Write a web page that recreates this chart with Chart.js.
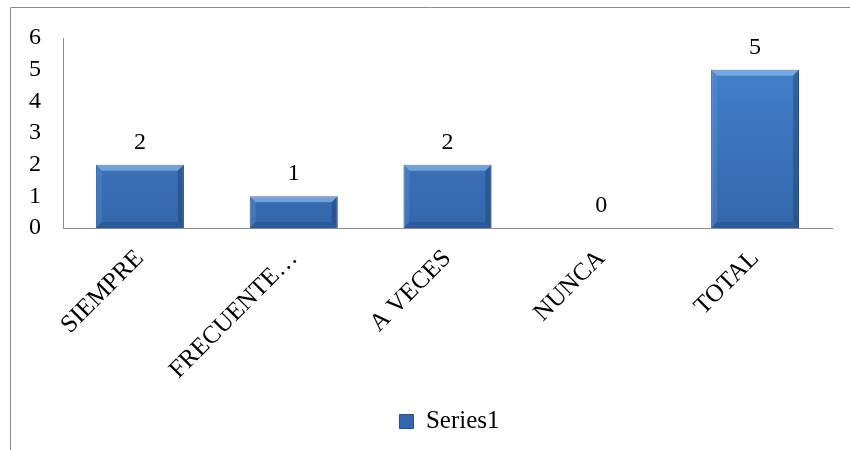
<!DOCTYPE html>
<html>
<head>
<meta charset="utf-8">
<script src="https://cdn.jsdelivr.net/npm/chart.js@4"></script>
<style>
  html, body { margin: 0; padding: 0; background: #fff; }
  #wrap { width: 850px; height: 450px; }
</style>
</head>
<body>
<div id="wrap"><canvas id="chart" width="850" height="450"></canvas></div>
<script>
const categories = ['SIEMPRE', 'FRECUENTE…', 'A VECES', 'NUNCA', 'TOTAL'];
const series1 = [2, 1, 2, 0, 5];
const yTicks = [0, 1, 2, 3, 4, 5, 6];

const serif = "'Liberation Serif', 'Times New Roman', serif";

// outer frame, only top and left edges show in the picture
const framePlugin = {
  id: 'frame',
  beforeDraw(chart) {
    const c = chart.ctx;
    c.save();
    c.strokeStyle = '#8c8c8c';
    c.lineWidth = 1;
    c.beginPath();
    c.moveTo(850, 7.5);
    c.lineTo(10.5, 7.5);
    c.lineTo(10.5, 450);
    c.stroke();
    c.restore();
  },
  // legend sits a bit right of the canvas centre in the original
  afterLayout(chart) {
    if (chart.legend) {
      chart.legend.left += 30;
      chart.legend.right += 30;
    }
  },
};

// bevel look on the bars + value labels above them
const barExtras = {
  id: 'barExtras',
  afterDatasetsDraw(chart) {
    const c = chart.ctx;
    const meta = chart.getDatasetMeta(0);
    c.save();
    meta.data.forEach((bar) => {
      const { x, y, base, width } = bar.getProps(['x', 'y', 'base', 'width'], true);
      const h = base - y;
      if (h < 2) return;
      const l = x - width / 2, r = x + width / 2;
      const b = Math.min(6, h / 3);
      c.fillStyle = 'rgba(150,195,245,0.6)';
      c.beginPath();
      c.moveTo(l, y); c.lineTo(r, y); c.lineTo(r - b, y + b); c.lineTo(l + b, y + b);
      c.closePath(); c.fill();
      c.fillStyle = 'rgba(110,160,225,0.25)';
      c.beginPath();
      c.moveTo(l, y); c.lineTo(l + b, y + b); c.lineTo(l + b, base - b); c.lineTo(l, base);
      c.closePath(); c.fill();
      c.fillStyle = 'rgba(20,50,95,0.35)';
      c.beginPath();
      c.moveTo(r, y); c.lineTo(r, base); c.lineTo(r - b, base - b); c.lineTo(r - b, y + b);
      c.closePath(); c.fill();
      c.fillStyle = 'rgba(20,50,95,0.25)';
      c.beginPath();
      c.moveTo(l, base); c.lineTo(r, base); c.lineTo(r - b, base - b); c.lineTo(l + b, base - b);
      c.closePath(); c.fill();
    });

    c.font = '24px ' + serif;
    c.fillStyle = '#000';
    c.textAlign = 'center';
    c.textBaseline = 'alphabetic';
    meta.data.forEach((bar, i) => {
      c.fillText(String(series1[i]), bar.x, bar.y - 16);
    });
    c.restore();
  },
};

function barFill(ctx) {
  const chart = ctx.chart;
  const area = chart.chartArea;
  if (!area) return '#3b73bd';
  const g = chart.ctx.createLinearGradient(0, area.top, 0, area.bottom);
  g.addColorStop(0, '#4683d0');
  g.addColorStop(1, '#3467ab');
  return g;
}

new Chart(document.getElementById('chart'), {
  type: 'bar',
  data: {
    labels: categories,
    datasets: [{
      label: 'Series1',
      data: series1,
      backgroundColor: barFill,
      borderColor: '#274f88',
      borderWidth: 1,
      categoryPercentage: 1,
      barPercentage: 0.572,
    }],
  },
  options: {
    responsive: false,
    animation: false,
    layout: { padding: { left: 7, right: 18, top: 38, bottom: 6 } },
    plugins: {
      tooltip: { enabled: false },
      legend: {
        position: 'bottom',
        labels: {
          color: '#000',
          font: { family: serif, size: 25 },
          boxWidth: 14,
          boxHeight: 14,
          padding: 8,
        },
      },
    },
    scales: {
      x: {
        grid: { display: false, drawTicks: false },
        border: { color: '#8c8c8c', width: 1 },
        ticks: {
          color: '#000',
          font: { family: serif, size: 25 },
          minRotation: 45,
          maxRotation: 45,
          autoSkip: false,
          padding: 16,
        },
        afterFit(scale) { scale.height = 173; },
      },
      y: {
        min: 0,
        max: 6,
        grid: { display: false, drawTicks: false },
        border: { color: '#8c8c8c', width: 1 },
        afterBuildTicks(scale) {
          scale.ticks = yTicks.map((v) => ({ value: v }));
        },
        ticks: {
          color: '#000',
          font: { family: serif, size: 24 },
          autoSkip: false,
          padding: 22,
        },
      },
    },
  },
  plugins: [framePlugin, barExtras],
});
</script>
</body>
</html>
